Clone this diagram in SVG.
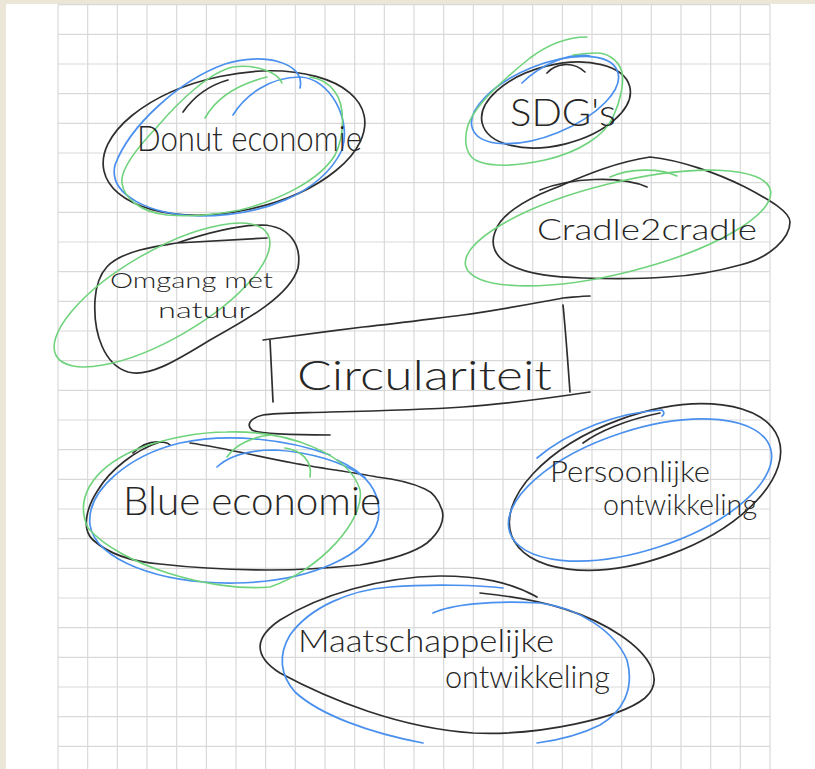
<svg xmlns="http://www.w3.org/2000/svg" width="815" height="769" viewBox="0 0 815 769">
<style>
.grid{fill:none;stroke:#d9d9d9;stroke-width:1.2}
.k{fill:none;stroke:#2e2e2e;stroke-width:1.7;stroke-linecap:round;stroke-linejoin:round}
.b{fill:none;stroke:#4a90ee;stroke-width:1.7;stroke-linecap:round}
.g{fill:none;stroke:#6fd37c;stroke-width:1.6;stroke-linecap:round}
.t{font-family:Lato,"Open Sans","Liberation Sans",sans-serif;font-weight:300;fill:#262626}
</style>
<rect x="0" y="0" width="815" height="769" fill="#ece6d8"/>
<rect x="6" y="4" width="809" height="765" fill="#ffffff"/>
<g id="grid">
<path class="grid" d="M58,4.7V769M87.67,4.7V769M117.33,4.7V769M147,4.7V769M176.67,4.7V769M206.33,4.7V769M236,4.7V769M265.67,4.7V769M295.33,4.7V769M325,4.7V769M354.67,4.7V769M384.33,4.7V769M414,4.7V769M443.67,4.7V769M473.33,4.7V769M503,4.7V769M532.67,4.7V769M562.33,4.7V769M592,4.7V769M621.67,4.7V769M651.33,4.7V769M681,4.7V769M710.67,4.7V769M740.33,4.7V769M770,4.7V769
M58,4.7H770M58,34.4H770M58,64H770M58,93.7H770M58,123.4H770M58,153H770M58,182.7H770M58,212.4H770M58,242H770M58,271.7H770M58,301.4H770M58,331H770M58,360.7H770M58,390.4H770M58,420H770M58,449.7H770M58,479.4H770M58,509H770M58,538.7H770M58,568.4H770M58,598H770M58,627.7H770M58,657.4H770M58,687H770M58,716.7H770M58,746.4H770"/>
</g>
<g id="connectors"></g>
<g id="donut-economie">
<ellipse class="k" cx="234" cy="143" rx="133" ry="68" transform="rotate(-12 234 143)"/>
<path class="k" d="M183,112 C195,95 210,85 228,80"/>
<path class="b" d="M300,88 C306,62 262,52 225,64 C180,80 130,125 115,165 C108,195 150,215 200,216 C260,216 320,195 342,150 C352,120 330,78 300,77 C270,77 245,95 233,115"/>
<path class="g" d="M282,83 C278,72 255,64 233,67 C210,72 180,100 157,127 C135,150 120,170 122,183 C124,198 140,212 167,215 C190,217 215,215 240,210 C280,200 320,180 335,155 C345,135 345,105 335,92 C328,82 318,78 310,77"/>
<path class="g" d="M205,118 C215,100 235,85 267,77"/>
<text class="t" x="137" y="151" font-size="36" textLength="225" lengthAdjust="spacingAndGlyphs">Donut economie</text>
</g>
<g id="sdgs">
<ellipse class="k" cx="556" cy="105" rx="76" ry="40" transform="rotate(-14 556 105)"/>
<path class="k" d="M547,73 C555,64 572,60 585,72"/>
<ellipse class="b" cx="545" cy="100" rx="78" ry="35" transform="rotate(-22 545 100)"/>
<path class="b" d="M522,83 C540,65 570,52 590,56"/>
<path class="g" d="M587,37 C570,37 550,43 530,58 C505,78 475,105 468,125 C463,142 466,158 480,162 C495,167 517,166 545,160 C580,152 605,135 613,117 C621,100 624,83 622,72 C618,58 605,53 597,53 C588,53 580,54 573,55"/>
<text class="t" x="510" y="126" font-size="38" textLength="106" lengthAdjust="spacingAndGlyphs">SDG's</text>
</g>
<g id="cradle2cradle">
<path class="k" d="M650,157 C680,160 717,173 745,187 C770,200 790,212 790,222 C790,238 770,258 740,265 C715,272 690,276 667,277 C640,279 610,279 583,278 C555,277 530,275 510,265 C495,257 490,245 495,232 C500,215 525,200 550,190 C575,180 610,163 650,157"/>
<path class="k" d="M540,190 C570,178 620,175 647,187"/>
<ellipse class="g" cx="618" cy="228" rx="157" ry="45" transform="rotate(-14 618 228)"/>
<path class="g" d="M610,177 C630,168 660,168 677,176"/>
<text class="t" x="537" y="240" font-size="30" textLength="220" lengthAdjust="spacingAndGlyphs">Cradle2cradle</text>
</g>
<g id="omgang-met-natuur">
<path class="k" d="M177,243 C210,232 240,225 262,225 C290,226 302,245 298,268 C290,295 250,318 210,340 C180,358 150,378 128,372 C105,365 93,335 95,300 C97,270 110,258 140,250 C155,246 165,245 177,243 L267,238"/>
<ellipse class="g" cx="162" cy="295" rx="122" ry="44" transform="rotate(-30 162 295)"/>
<text class="t" x="110" y="288" font-size="21" textLength="163" lengthAdjust="spacingAndGlyphs">Omgang met</text>
<text class="t" x="158" y="318" font-size="21" textLength="92" lengthAdjust="spacingAndGlyphs">natuur</text>
</g>
<g id="circulariteit">
<path class="k" d="M263,340 C300,335 330,331 363,327 C400,323 430,319 463,315 C500,310 530,304 563,298 C575,297 583,296 590,296"/>
<path class="k" d="M270,340 C271,360 272,380 273,402"/>
<path class="k" d="M563,305 C566,335 568,365 570,392"/>
<path class="k" d="M590,392 C550,398 505,404 463,407 C420,410 375,411 330,412 C300,413 275,413 263,415 C250,418 246,425 252,430 C258,434 290,435 330,435"/>
<text class="t" x="297" y="390" font-size="42" textLength="255" lengthAdjust="spacingAndGlyphs">Circulariteit</text>
</g>
<g id="blue-economie">
<path class="k" d="M133,453 C140,446 150,441 160,442 C166,442 169,444 170,445 M160,442 C135,450 110,470 98,490 C85,510 82,530 93,540 C110,555 135,562 160,564 C195,568 230,570 270,570 C310,570 340,567 360,565 C390,560 415,552 427,543 C440,532 445,520 442,510 C438,498 432,492 425,489 C410,482 395,479 377,477 C350,472 320,468 293,463 C260,457 225,448 190,443"/>
<path class="b" d="M337,460 C365,472 383,492 378,520 C370,555 310,582 235,583 C160,584 95,560 90,525 C86,490 130,455 180,443 C230,432 290,440 330,455"/>
<path class="b" d="M217,467 C230,455 250,450 275,450 C310,452 345,462 365,478"/>
<path class="g" d="M227,432 C290,430 350,455 360,490 C365,520 320,570 270,587 C210,592 120,565 88,528 C75,500 90,470 135,450 C165,438 200,432 227,432"/>
<path class="g" d="M310,477 C313,460 300,450 285,448"/>
<path class="g" d="M227,457 C235,445 252,437 270,435"/>
<text class="t" x="123" y="515" font-size="40" textLength="258" lengthAdjust="spacingAndGlyphs">Blue economie</text>
</g>
<g id="persoonlijke-ontwikkeling">
<ellipse class="k" cx="645" cy="487" rx="142" ry="72" transform="rotate(-20 645 487)"/>
<path class="k" d="M583,443 C598,432 625,420 660,413"/>
<ellipse class="b" cx="640" cy="490" rx="137" ry="60" transform="rotate(-18 640 490)"/>
<path class="b" d="M537,458 C570,430 620,412 662,410 C665,412 664,415 662,416"/>
<text class="t" x="550" y="482" font-size="30" textLength="160" lengthAdjust="spacingAndGlyphs">Persoonlijke</text>
<text class="t" x="603" y="515" font-size="30" textLength="154" lengthAdjust="spacingAndGlyphs">ontwikkeling</text>
</g>
<g id="maatschappelijke-ontwikkeling">
<path class="k" d="M537,597 C510,582 480,576 440,576 C380,577 320,595 280,620 C255,637 252,655 280,673 C330,700 400,728 473,733 C540,736 620,718 645,698 C665,680 650,655 620,635 C590,615 550,600 480,593"/>
<path class="b" d="M423,743 C370,733 320,715 295,692 C280,675 278,655 290,635 C310,607 350,590 390,587 C430,584 480,585 503,588"/>
<path class="b" d="M433,613 C450,605 490,600 540,603 C580,608 615,632 627,660 C635,690 622,712 600,725 C580,735 560,740 537,743"/>
<text class="t" x="298" y="652" font-size="32" textLength="256" lengthAdjust="spacingAndGlyphs">Maatschappelijke</text>
<text class="t" x="445" y="688" font-size="32" textLength="165" lengthAdjust="spacingAndGlyphs">ontwikkeling</text>
</g>
</svg>
